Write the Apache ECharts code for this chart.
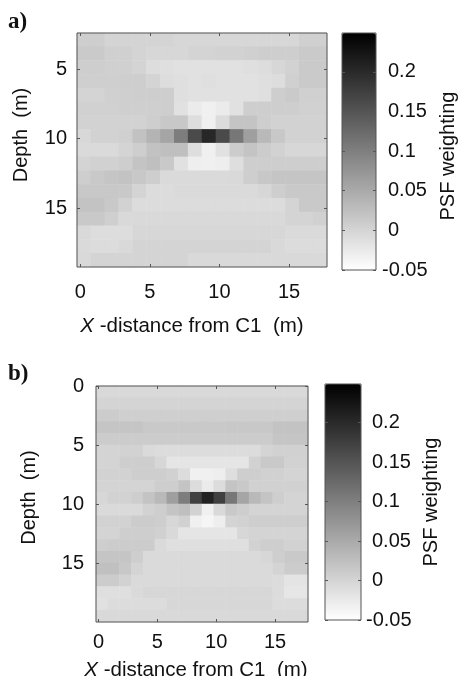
<!DOCTYPE html>
<html>
<head>
<meta charset="utf-8">
<style>html,body{margin:0;padding:0;background:#fff}#c{width:458px;height:676px;filter:blur(0.4px)}</style>
<script src="https://cdn.jsdelivr.net/npm/echarts@6/dist/echarts.min.js"></script>
</head>
<body>
<div id="c"></div>
<script>
const columns = ['0.26','1.26','2.26','3.26','4.26','5.26','6.26','7.26','8.26','9.26','10.26','11.26','12.26','13.26','14.26','15.26','16.26','17.26'];
const depthsA = ['2.9','3.9','4.9','5.9','6.9','7.9','8.9','9.9','10.9','11.9','12.9','13.9','14.9','15.9','16.9','17.9','18.9'];
const depthsB = ['0.5','1.5','2.5','3.5','4.5','5.5','6.5','7.5','8.5','9.5','10.5','11.5','12.5','13.5','14.5','15.5','16.5','17.5','18.5','19.5'];
const distanceTicks = [0,5,10,15];
const depthTicksA = [5,10,15];
const depthTicksB = [0,5,10,15];
const weightTicks = [-0.05,0,0.05,0.1,0.15,0.2];
const weightTickLabels = ['-0.05','0','0.05','0.1','0.15','0.2'];
const weightMin = -0.05, weightMax = 0.249;

const psfA = [
[.008,.008,.001,.001,.001,.001,.001,-.003,-.003,-.003,-.003,-.003,-.003,-.003,-.003,-.003,.005,.005],
[.012,.012,.005,.005,.001,-.003,-.003,-.003,.001,.001,.003,.003,.005,.008,.008,.008,.012,.012],
[.008,.008,.005,.005,.001,-.010,-.013,-.015,-.015,-.015,-.015,-.015,-.013,-.010,-.003,.003,.012,.012],
[.006,.006,.006,.008,.008,.001,-.010,-.013,-.015,-.013,-.015,-.015,-.015,-.013,-.010,.005,.012,.012],
[.001,.001,.005,.006,.008,.008,.008,-.013,-.015,-.015,-.015,-.015,-.015,-.013,.008,.012,.005,.005],
[.004,.004,.004,.006,.006,.006,.008,-.015,-.026,-.032,-.026,-.015,.008,.008,.008,.008,.004,.004],
[.003,.003,.003,.003,.003,.008,.015,.015,-.011,-.032,-.009,.019,.019,.008,.003,.003,.003,.003],
[-.004,.003,.003,.005,.021,.038,.056,.103,.162,.203,.162,.109,.062,.032,.015,.003,.003,.003],
[-.007,-.007,-.007,.001,.008,.022,.025,.025,-.011,-.032,-.015,.010,.019,.010,.003,-.003,-.003,-.003],
[.001,.004,.004,.008,.019,.025,.013,-.015,-.030,-.032,-.030,-.011,.008,.008,.008,.008,.008,.008],
[.008,.013,.018,.020,.015,.008,-.007,-.007,-.007,-.007,-.007,-.005,.008,.015,.018,.018,.018,.018],
[.015,.015,.015,.013,.001,-.009,-.009,-.007,-.007,-.007,-.007,-.007,-.007,-.003,.008,.013,.013,.013],
[.020,.020,.013,.003,-.009,-.009,-.009,-.009,-.009,-.009,-.009,-.009,-.009,-.009,-.009,.001,.013,.013],
[.013,.013,.006,-.005,-.005,-.005,-.005,-.005,-.005,-.005,-.005,-.005,-.005,-.005,-.005,.001,.001,.004],
[-.005,-.010,-.010,-.010,-.003,-.003,-.003,-.003,-.003,-.003,-.003,-.003,-.003,-.003,-.003,-.007,-.007,-.007],
[-.007,-.009,-.009,-.005,.001,.001,.001,.001,.001,.001,.001,.001,.001,.001,-.005,-.009,-.009,-.009],
[-.005,.000,.000,.000,.000,.000,.000,.000,-.005,-.005,-.005,-.005,-.005,-.005,-.005,-.005,-.005,-.005]
];

const psfB = [
[-.006,-.006,-.006,-.006,-.006,-.006,-.006,-.006,-.006,-.006,-.006,-.006,-.006,-.006,-.006,-.006,-.006,-.006],
[.001,.001,.001,.001,.001,.001,.001,.001,.001,.001,.001,.001,.001,.001,.001,.001,.001,.001],
[.010,.010,.006,.006,.006,.006,.006,.006,.006,.006,.006,.006,.006,.006,.006,.006,.006,.006],
[.018,.018,.018,.018,.013,.013,.013,.013,.013,.013,.013,.015,.015,.015,.015,.020,.020,.020],
[.010,.010,.010,.010,.010,.010,.010,.010,.010,.010,.010,.010,.010,.010,.010,.018,.018,.018],
[.001,.001,.003,.003,-.007,-.009,-.009,-.009,-.009,-.009,-.009,-.009,-.009,-.009,.001,.004,.004,.004],
[.001,.001,.008,.008,.008,-.003,-.020,-.020,-.020,-.020,-.020,-.020,-.020,.003,.013,.013,.003,.003],
[.003,.003,.003,.008,.008,.008,.004,-.009,-.032,-.032,-.030,-.011,.008,.008,.004,.004,.001,.001],
[.001,.001,.001,.001,.001,.008,.008,.019,-.009,-.026,-.009,.019,.013,.004,.004,.004,.004,.004],
[-.003,.003,.003,.008,.019,.032,.062,.103,.174,.209,.174,.109,.056,.032,.019,.008,.001,.001],
[-.007,-.007,-.007,-.007,.003,.008,.019,.025,.003,-.032,-.005,.013,.008,.001,.001,.001,.001,.001],
[.003,.003,.003,.010,.010,.008,-.003,.004,-.032,-.038,-.030,.001,.003,.008,.008,.008,.008,.008],
[.001,.001,.008,.008,.008,.004,-.005,-.020,-.020,-.020,-.020,-.020,-.003,.001,.001,.001,.001,.001],
[.008,.010,.010,.010,.010,-.007,-.013,-.013,-.013,-.013,-.013,-.013,-.013,.003,.008,.008,.003,.003],
[.018,.018,.018,.008,-.007,-.007,-.007,-.007,-.007,-.007,-.007,-.007,-.007,-.007,-.003,.008,.013,.013],
[.024,.024,.015,.001,-.007,-.007,-.007,-.007,-.007,-.007,-.007,-.007,-.007,-.007,-.007,.001,.010,.010],
[.010,.010,.003,-.007,-.007,-.007,-.007,-.007,-.007,-.007,-.007,-.007,-.007,-.007,-.007,-.009,-.018,-.018],
[-.012,-.012,-.012,-.007,-.003,-.003,-.003,-.003,-.003,-.003,-.003,-.003,-.003,-.003,-.003,-.009,-.021,-.021],
[-.015,-.009,-.009,-.009,-.009,-.009,-.003,-.003,-.003,-.003,-.003,-.003,-.003,-.003,-.003,-.009,-.009,-.009],
[-.006,-.006,-.006,-.006,-.006,-.006,-.006,-.006,-.006,-.006,-.006,-.006,-.006,-.006,-.006,-.006,-.006,-.006]
];

const FONT = '"Liberation Sans", Arial, sans-serif';
const EDGE = '#555';
const NO_LINE = {show: false, onZero: false};
const tickFont = {fontFamily: FONT, fontSize: 20, color: '#111'};
const nameFont = {fontFamily: FONT, fontSize: 20, color: '#111'};
const xNameFont = {fontFamily: FONT, fontSize: 20.5, color: '#111'};

const grids = [], xAxes = [], yAxes = [], series = [], visualMaps = [];

function addPanel(p) {
  const g = grids.length;
  grids.push({left: p.plot[0], top: p.plot[1], width: p.plot[2] - p.plot[0], height: p.plot[3] - p.plot[1],
    show: true, borderColor: EDGE, borderWidth: 1, backgroundColor: 'transparent', z: 5, outerBoundsMode: 'none'});
  const xCat = xAxes.length;
  xAxes.push({gridIndex: g, type: 'category', data: columns, show: false});
  xAxes.push({gridIndex: g, type: 'value', position: 'bottom', min: p.xRange[0], max: p.xRange[1], z: 6,
    axisLine: NO_LINE, splitLine: {show: false},
    axisTick: {show: true, inside: true, length: 3, lineStyle: {color: EDGE}, customValues: distanceTicks},
    axisLabel: Object.assign({show: true, margin: p.xMargin, customValues: distanceTicks, formatter: v => String(v)}, tickFont),
    name: '{i|X} -distance from C1  (m)', nameLocation: 'middle', nameGap: p.xNameGap, nameMoveOverlap: false,
    nameTextStyle: Object.assign({}, xNameFont, {padding: p.xNamePad, rich: {i: Object.assign({}, xNameFont, {fontStyle: 'italic'})}})});
  xAxes.push({gridIndex: g, type: 'value', position: 'top', min: p.xRange[0], max: p.xRange[1], z: 6,
    axisLine: NO_LINE, splitLine: {show: false}, axisLabel: {show: false},
    axisTick: {show: true, inside: true, length: 3, lineStyle: {color: EDGE}, customValues: distanceTicks}});
  const yCat = yAxes.length;
  yAxes.push({gridIndex: g, type: 'category', data: p.depths, inverse: true, show: false});
  yAxes.push({gridIndex: g, type: 'value', position: 'left', inverse: true, min: p.yRange[0], max: p.yRange[1], z: 6,
    axisLine: NO_LINE, splitLine: {show: false},
    axisTick: {show: true, inside: true, length: 3, lineStyle: {color: EDGE}, customValues: p.depthTicks},
    axisLabel: Object.assign({show: true, margin: p.yMargin, customValues: p.depthTicks, formatter: v => String(v)}, tickFont),
    name: 'Depth  (m)', nameLocation: 'middle', nameGap: p.yNameGap, nameRotate: 90, nameMoveOverlap: false,
    nameTextStyle: Object.assign({}, nameFont, {padding: p.yNamePad})});
  yAxes.push({gridIndex: g, type: 'value', position: 'right', inverse: true, min: p.yRange[0], max: p.yRange[1], z: 6,
    axisLine: NO_LINE, splitLine: {show: false}, axisLabel: {show: false},
    axisTick: {show: true, inside: true, length: 3, lineStyle: {color: EDGE}, customValues: p.depthTicks}});
  const data = [];
  p.values.forEach((row, r) => row.forEach((v, c) => data.push([c, r, v])));
  const s = series.length;
  series.push({type: 'heatmap', xAxisIndex: xCat, yAxisIndex: yCat, data, silent: true, animation: false,
    progressive: 0, itemStyle: {borderWidth: 0}});

  // colour bar: gradient from visualMap, ticks and labels from a value axis
  const b = p.bar;
  visualMaps.push({type: 'continuous', seriesIndex: s, dimension: 2, min: weightMin, max: weightMax,
    left: b[0], top: b[1], itemWidth: b[2] - b[0], itemHeight: b[3] - b[1], padding: 0, text: null,
    calculable: false, hoverLink: false, realtime: false, z: 2, inRange: {color: ['#ffffff', '#000000']}});
  const gb = grids.length;
  grids.push({left: b[0], top: b[1], width: b[2] - b[0], height: b[3] - b[1],
    show: true, borderColor: EDGE, borderWidth: 1, backgroundColor: 'transparent', z: 5, outerBoundsMode: 'none'});
  xAxes.push({gridIndex: gb, type: 'value', show: false, min: 0, max: 1, axisLine: NO_LINE});
  yAxes.push({gridIndex: gb, type: 'value', position: 'right', min: weightMin, max: weightMax, z: 6,
    axisLine: NO_LINE, splitLine: {show: false},
    axisTick: {show: true, inside: true, length: 3, lineStyle: {color: '#555'}, customValues: weightTicks},
    axisLabel: Object.assign({show: true, margin: p.barMargin, customValues: weightTicks, align: 'left',
      rich: {s: {width: 6}},
      formatter: v => {
        const t = weightTickLabels[weightTicks.findIndex(w => Math.abs(w - v) < 1e-6)];
        return t.charAt(0) === '-' ? t : '{s|}' + t;
      }}, tickFont),
    name: 'PSF weighting', nameLocation: 'middle', nameGap: p.barNameGap, nameRotate: 90, nameMoveOverlap: false,
    nameTextStyle: Object.assign({}, nameFont, {padding: p.barNamePad})});
  yAxes.push({gridIndex: gb, type: 'value', position: 'left', min: weightMin, max: weightMax, z: 6,
    axisLine: NO_LINE, splitLine: {show: false}, axisLabel: {show: false},
    axisTick: {show: true, inside: true, length: 3, lineStyle: {color: '#555'}, customValues: weightTicks}});
}

addPanel({plot: [77, 33, 327, 267], bar: [342, 33, 376, 270], values: psfA, depths: depthsA,
  depthTicks: depthTicksA, xRange: [-0.24, 17.73], yRange: [2.39, 19.23],
  xMargin: 15, xNameGap: 49, xNamePad: [0,20,0,0], yMargin: 10, yNameGap: 46, yNamePad: [0,0,0,30],
  barMargin: 6, barNameGap: 62, barNamePad: [0,9,0,0]});
addPanel({plot: [96, 386, 308, 622], bar: [325, 384, 361, 620], values: psfB, depths: depthsB,
  depthTicks: depthTicksB, xRange: [-0.22, 17.8], yRange: [0, 20],
  xMargin: 10, xNameGap: 38, xNamePad: [0,12,0,0], yMargin: 12, yNameGap: 57, yNamePad: [0,0,0,13],
  barMargin: 5, barNameGap: 60, barNamePad: [0,0,0,0]});

const chart = echarts.init(document.getElementById('c'), null, {renderer: 'canvas'});
chart.setOption({
  animation: false,
  backgroundColor: '#fff',
  title: [
    {text: 'a)', left: 8, top: 11, padding: 0, textStyle: {fontFamily: '"Liberation Serif", serif', fontWeight: 'bold', fontSize: 23, color: '#111'}},
    {text: 'b)', left: 8, top: 363, padding: 0, textStyle: {fontFamily: '"Liberation Serif", serif', fontWeight: 'bold', fontSize: 23, color: '#111'}}
  ],
  grid: grids, xAxis: xAxes, yAxis: yAxes, visualMap: visualMaps, series
});
</script>
</body>
</html>
